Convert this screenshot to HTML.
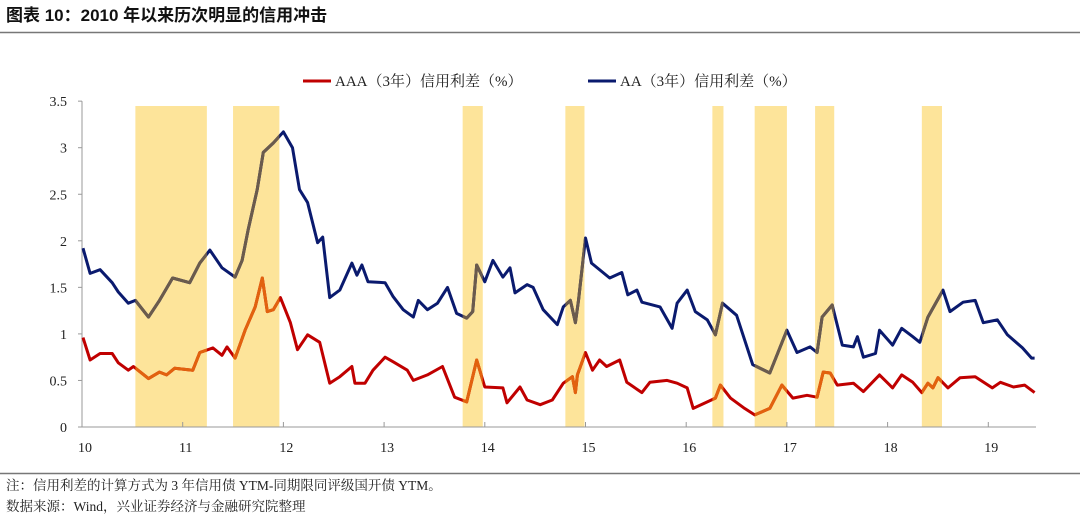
<!DOCTYPE html>
<html><head><meta charset="utf-8"><style>
body{margin:0;background:#fff;width:1080px;height:517px;overflow:hidden;font-family:"Liberation Serif","Noto Serif CJK SC",serif;}
</style></head><body>
<svg id="chart" width="1080" height="517" xmlns="http://www.w3.org/2000/svg">
<text x="6" y="21" font-size="17" font-weight="bold" fill="#111" font-family="Liberation Sans, Noto Sans CJK SC, sans-serif">图表 10：2010 年以来历次明显的信用冲击</text>
<line x1="0" y1="32.5" x2="1080" y2="32.5" stroke="#777" stroke-width="1.5"/>
<line x1="0" y1="473.5" x2="1080" y2="473.5" stroke="#777" stroke-width="1.5"/>
<text x="6" y="490" font-size="13.5" fill="#222">注：信用利差的计算方式为 3 年信用债 YTM-同期限同评级国开债 YTM。</text>
<text x="6" y="511" font-size="13.5" fill="#222">数据来源：Wind，兴业证券经济与金融研究院整理</text>
<g>
<line x1="303" y1="81" x2="331" y2="81" stroke="#c00000" stroke-width="3"/>
<text x="335" y="86" font-size="15" fill="#222">AAA（3年）信用利差（%）</text>
<line x1="588" y1="81" x2="616" y2="81" stroke="#0a1a6e" stroke-width="3"/>
<text x="620" y="86" font-size="15" fill="#222">AA（3年）信用利差（%）</text>
</g>
<g id="shades"></g><g id="axes"></g><g id="lines"></g>
</svg>
<script>
const yTicks=[0,0.5,1,1.5,2,2.5,3,3.5];
const yTickLabels=["0","0.5","1","1.5","2","2.5","3","3.5"];
const xTicks=[10,11,12,13,14,15,16,17,18,19];
const xTickLabels=["10","11","12","13","14","15","16","17","18","19"];
const shockStart=[10.53,11.50,13.78,14.80,16.26,16.68,17.28,18.34];
const shockEnd=[11.24,11.96,13.98,14.99,16.37,17.00,17.47,18.54];
const aaDates=[10.01,10.08,10.18,10.30,10.36,10.46,10.53,10.66,10.77,10.90,11.07,11.17,11.27,11.39,11.52,11.59,11.65,11.74,11.80,11.90,12.00,12.09,12.16,12.24,12.34,12.39,12.46,12.56,12.68,12.73,12.78,12.84,13.01,13.09,13.19,13.29,13.34,13.43,13.53,13.63,13.72,13.82,13.88,13.92,14.00,14.08,14.18,14.25,14.30,14.42,14.48,14.58,14.72,14.78,14.85,14.90,14.93,15.00,15.06,15.24,15.36,15.42,15.51,15.56,15.74,15.86,15.91,16.01,16.09,16.21,16.29,16.36,16.50,16.66,16.83,17.00,17.10,17.23,17.30,17.35,17.45,17.55,17.66,17.70,17.76,17.88,17.92,18.05,18.14,18.25,18.32,18.40,18.55,18.62,18.75,18.87,18.95,19.09,19.19,19.34,19.43,19.46];
const aaValues=[1.92,1.65,1.69,1.55,1.45,1.33,1.36,1.18,1.36,1.60,1.55,1.76,1.90,1.71,1.61,1.79,2.12,2.55,2.95,3.05,3.17,3.00,2.55,2.41,1.98,2.04,1.39,1.47,1.76,1.63,1.74,1.56,1.55,1.40,1.26,1.18,1.36,1.26,1.33,1.50,1.22,1.17,1.24,1.74,1.56,1.79,1.61,1.71,1.44,1.53,1.50,1.26,1.10,1.29,1.36,1.12,1.36,2.03,1.76,1.60,1.66,1.42,1.47,1.34,1.29,1.06,1.33,1.47,1.24,1.15,0.99,1.33,1.20,0.67,0.58,1.04,0.80,0.86,0.80,1.18,1.31,0.88,0.86,0.97,0.75,0.79,1.04,0.88,1.06,0.97,0.91,1.18,1.47,1.24,1.34,1.36,1.12,1.15,0.99,0.85,0.74,0.74];
const aaaDates=[10.01,10.08,10.18,10.30,10.36,10.46,10.51,10.66,10.77,10.84,10.92,11.10,11.17,11.30,11.39,11.44,11.52,11.62,11.72,11.79,11.84,11.90,11.97,12.07,12.14,12.24,12.36,12.46,12.56,12.68,12.71,12.81,12.89,13.01,13.09,13.23,13.29,13.43,13.58,13.70,13.82,13.92,14.00,14.18,14.22,14.35,14.42,14.55,14.67,14.78,14.87,14.90,14.92,15.00,15.07,15.14,15.21,15.34,15.41,15.56,15.64,15.81,15.91,16.01,16.07,16.21,16.29,16.34,16.44,16.58,16.68,16.83,16.95,17.06,17.20,17.30,17.36,17.43,17.50,17.66,17.76,17.92,18.05,18.14,18.25,18.34,18.40,18.45,18.50,18.60,18.72,18.87,19.04,19.12,19.25,19.36,19.46];
const aaaValues=[0.96,0.72,0.79,0.79,0.69,0.61,0.65,0.52,0.59,0.56,0.63,0.61,0.80,0.85,0.77,0.86,0.74,1.04,1.29,1.60,1.24,1.26,1.39,1.12,0.83,0.99,0.91,0.47,0.54,0.65,0.47,0.47,0.61,0.75,0.70,0.61,0.50,0.56,0.65,0.32,0.27,0.72,0.43,0.42,0.26,0.43,0.29,0.24,0.29,0.47,0.54,0.37,0.56,0.80,0.61,0.72,0.65,0.72,0.48,0.37,0.48,0.50,0.47,0.42,0.20,0.27,0.31,0.45,0.31,0.20,0.13,0.20,0.45,0.31,0.34,0.32,0.59,0.58,0.45,0.47,0.38,0.56,0.42,0.56,0.48,0.37,0.47,0.42,0.53,0.42,0.53,0.54,0.42,0.48,0.43,0.45,0.37];

const NS="http://www.w3.org/2000/svg";
const X0=82,XPER=100.7,Y0=427,YPER=93.1;
function xs(d){return X0+(d-10)*XPER;}
function ys(v){return Y0-v*YPER;}
function mk(tag,attrs,parent){const e=document.createElementNS(NS,tag);for(const k in attrs)e.setAttribute(k,attrs[k]);parent.appendChild(e);return e;}
const svg=document.getElementById('chart');
const shades=document.getElementById('shades'),axes=document.getElementById('axes'),lines=document.getElementById('lines');
const defs=mk('defs',{},svg);
const clip=mk('clipPath',{id:'shockClip'},defs);
for(let i=0;i<shockStart.length;i++){
  const r=mk('rect',{x:xs(shockStart[i]),y:106,width:xs(shockEnd[i])-xs(shockStart[i]),height:Y0-106,fill:'#fde49a'},shades);
  
  
  mk('rect',{x:xs(shockStart[i]),y:100,width:xs(shockEnd[i])-xs(shockStart[i]),height:330},clip);
}
const yAxis=mk('line',{x1:X0,y1:ys(3.5),x2:X0,y2:Y0,stroke:'#999','stroke-width':1},axes);


const xAxis=mk('line',{x1:X0,y1:Y0,x2:1036,y2:Y0,stroke:'#999','stroke-width':1},axes);


yTicks.forEach((v,i)=>{
  mk('line',{x1:X0-4,y1:ys(v),x2:X0,y2:ys(v),stroke:'#999'},axes);
  const t=mk('text',{x:X0-15,y:ys(v)+5,'font-size':14,'text-anchor':'end',fill:'#222'},axes);
  t.textContent=yTickLabels[i];
  
  
});
xTicks.forEach((v,i)=>{
  if(i>0)mk('line',{x1:xs(v),y1:Y0,x2:xs(v),y2:Y0-5,stroke:'#999'},axes);
  const t=mk('text',{x:xs(v)+3,y:452,'font-size':14,'text-anchor':'middle',fill:'#222'},axes);
  t.textContent=xTickLabels[i];
  
  
});
function pathD(ds,vs){return ds.map((d,i)=>(i?'L':'M')+xs(d).toFixed(1)+','+ys(vs[i]).toFixed(1)).join('');}
function drawSeries(ds,vs,color,hl,name){
  const p=mk('path',{d:pathD(ds,vs),fill:'none',stroke:color,'stroke-width':3,'stroke-linejoin':'round'},lines);
  
  
  const h=mk('path',{d:pathD(ds,vs),fill:'none',stroke:hl,'stroke-width':3,'stroke-linejoin':'round','clip-path':'url(#shockClip)'},lines);
  
  
}
drawSeries(aaDates,aaValues,'#0a1a6e','#6b5b4c','aa-spread');
drawSeries(aaaDates,aaaValues,'#c00000','#e2620e','aaa-spread');
</script>
</body></html>
